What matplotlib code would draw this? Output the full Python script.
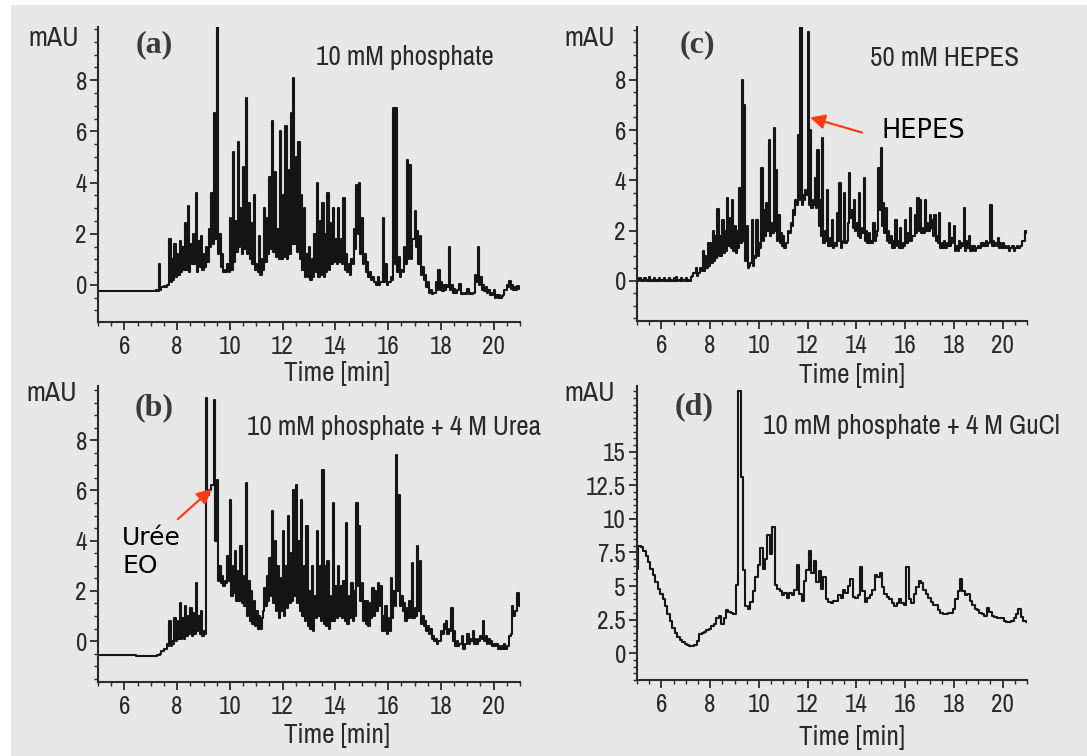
"""
Capillary electropherograms - four buffer conditions (a)-(d).
Renders out.png at 1087x756.
"""

import numpy as np
import matplotlib
matplotlib.use("Agg")
import matplotlib.pyplot as plt
from matplotlib import font_manager
from matplotlib.font_manager import FontProperties
from matplotlib.patches import Rectangle
from matplotlib.ticker import MultipleLocator, FixedLocator

# sampling grid of the traces (min); each bin has a top and a bottom value
TIME_START = 5.0
TIME_STEP = 0.1
N_POINTS = 161

# absorbance (mAU), one row per minute: 5.x, 6.x, ... 20.x, then 21.0
# top_* = highest point in each 0.1 min bin, low_* = lowest point
top_a = [
    -0.25, -0.25, -0.25, -0.25, -0.25, -0.25, -0.25, -0.25, -0.25, -0.25,
    -0.25, -0.25, -0.25, -0.25, -0.25, -0.25, -0.25, -0.25, -0.25, -0.25,
    -0.25, -0.25, -0.2, 0.8, -0.1, -0.05, 0.0, 1.8, 1.0, 1.6,
    1.2, 1.7, 1.5, 2.4, 3.1, 1.6, 2.0, 3.6, 1.7, 1.9,
    1.2, 1.5, 2.2, 3.6, 6.7, 10.2, 2.0, 1.2, 0.6, 0.8,
    2.6, 5.2, 2.5, 5.6, 3.0, 4.6, 7.3, 3.2, 2.4, 3.5,
    0.8, 1.9, 1.0, 3.0, 2.6, 4.2, 6.4, 4.4, 2.2, 6.0,
    3.5, 6.2, 4.5, 6.7, 8.1, 5.0, 5.6, 3.5, 3.0, 1.2,
    1.5, 1.0, 2.0, 4.0, 2.5, 3.2, 2.0, 3.6, 2.4, 3.0,
    1.8, 3.0, 1.8, 3.4, 1.2, 0.8, 1.0, 2.2, 3.9, 4.0,
    2.6, 1.2, 0.9, 0.5, 0.3, 0.1, 0.3, 0.1, 2.6, 0.8,
    0.1, 0.3, 6.9, 6.9, 1.1, 0.6, 1.5, 4.9, 4.7, 1.8,
    2.9, 2.1, 1.9, 0.7, 0.4, 0.1, -0.2, -0.3, 0.1, 0.6,
    0.1, 0.0, 0.0, 1.5, 0.0, -0.15, -0.2, 0.05, -0.3, -0.3,
    -0.15, -0.3, -0.3, 0.4, 1.5, 0.3, 0.0, -0.1, -0.2, -0.3,
    -0.2, -0.4, -0.4, -0.45, -0.2, 0.0, 0.15, 0.0, -0.1, -0.05,
    -0.1,
]
low_a = [
    -0.25, -0.25, -0.25, -0.25, -0.25, -0.25, -0.25, -0.25, -0.25, -0.25,
    -0.25, -0.25, -0.25, -0.25, -0.25, -0.25, -0.25, -0.25, -0.25, -0.25,
    -0.25, -0.25, -0.25, -0.25, -0.2, -0.1, -0.1, 0.0, 0.1, 0.2,
    0.3, 0.4, 0.5, 0.6, 0.6, 0.5, 0.8, 0.8, 0.5, 0.7,
    0.6, 0.7, 0.9, 1.5, 1.6, 1.8, 1.2, 0.7, 0.5, 0.5,
    0.5, 0.6, 0.9, 1.3, 1.5, 1.2, 1.4, 1.2, 1.0, 0.8,
    0.6, 0.5, 0.4, 0.6, 0.9, 1.2, 1.4, 1.3, 1.1, 1.0,
    1.0, 1.1, 1.0, 1.2, 1.6, 1.6, 1.3, 1.0, 0.6, 0.3,
    0.3, 0.2, 0.3, 0.5, 0.3, 0.4, 0.3, 0.5, 0.6, 0.8,
    0.9, 0.8, 0.9, 0.8, 0.6, 0.5, 0.4, 0.8, 1.4, 2.0,
    1.2, 0.8, 0.5, 0.3, 0.2, 0.1, 0.0, 0.0, 0.1, 0.1,
    0.0, 0.1, 0.2, 0.8, 0.5, 0.3, 0.5, 0.8, 1.0, 1.0,
    1.8, 1.5, 0.8, 0.4, 0.2, -0.1, -0.3, -0.35, -0.3, -0.2,
    -0.2, -0.25, -0.2, -0.1, -0.2, -0.3, -0.3, -0.2, -0.35, -0.35,
    -0.35, -0.35, -0.35, -0.3, 0.1, 0.0, -0.2, -0.25, -0.3, -0.4,
    -0.4, -0.5, -0.5, -0.5, -0.4, -0.2, -0.1, -0.15, -0.2, -0.2,
    -0.15,
]

top_b = [
    -0.55, -0.55, -0.55, -0.55, -0.55, -0.55, -0.55, -0.55, -0.55, -0.55,
    -0.55, -0.55, -0.55, -0.55, -0.55, -0.6, -0.6, -0.6, -0.6, -0.6,
    -0.6, -0.6, -0.6, -0.55, -0.4, -0.3, -0.1, 0.8, 0.0, 0.9,
    0.8, 1.5, 0.9, 1.4, 1.0, 1.3, 1.1, 2.3, 1.0, 1.2,
    0.4, 9.7, 6.0, 6.2, 9.6, 6.4, 3.0, 2.6, 2.4, 3.4,
    5.6, 3.0, 3.6, 2.8, 3.8, 2.6, 6.3, 2.4, 2.0, 1.6,
    1.2, 1.0, 0.9, 2.1, 2.6, 3.3, 5.2, 4.0, 3.0, 2.5,
    4.4, 3.0, 5.0, 3.5, 6.0, 6.2, 4.0, 5.6, 3.0, 4.6,
    2.0, 3.0, 1.8, 4.4, 3.0, 6.8, 3.0, 3.2, 1.8, 5.5,
    2.2, 3.0, 2.2, 2.4, 4.7, 1.8, 2.3, 2.0, 5.5, 4.6,
    2.3, 1.6, 1.6, 1.5, 2.1, 2.0, 2.3, 2.2, 1.0, 1.4,
    0.9, 2.5, 2.0, 7.4, 5.8, 1.8, 1.5, 1.3, 1.6, 3.1,
    1.3, 3.8, 3.2, 1.0, 0.8, 0.6, 0.5, 0.2, 0.1, 0.0,
    0.4, 0.7, 0.8, 0.5, 1.3, 0.4, 0.0, -0.1, 0.2, -0.1,
    0.3, 0.1, 0.4, 0.1, 0.1, 0.2, 0.8, 0.2, 0.1, 0.0,
    -0.1, -0.1, -0.2, -0.2, -0.1, -0.2, 0.2, 1.4, 1.2, 1.9,
    1.5,
]
low_b = [
    -0.55, -0.55, -0.55, -0.55, -0.55, -0.55, -0.55, -0.55, -0.55, -0.55,
    -0.55, -0.55, -0.55, -0.55, -0.55, -0.6, -0.6, -0.6, -0.6, -0.6,
    -0.6, -0.6, -0.6, -0.55, -0.5, -0.4, -0.3, -0.2, -0.2, -0.1,
    0.0, 0.1, 0.1, 0.1, 0.2, 0.3, 0.2, 0.3, 0.4, 0.3,
    0.2, 0.3, 5.8, 6.0, 6.2, 4.0, 2.4, 2.3, 2.2, 2.3,
    2.4, 1.8, 1.9, 1.6, 1.6, 1.5, 1.4, 1.0, 0.8, 0.7,
    0.6, 0.5, 0.5, 1.2, 1.4, 1.6, 1.8, 1.5, 1.2, 0.9,
    1.2, 1.0, 1.3, 1.5, 1.6, 1.8, 1.5, 1.2, 1.0, 0.8,
    0.6, 0.5, 0.4, 0.9, 1.0, 0.8, 0.7, 0.6, 0.5, 0.8,
    0.8, 0.9, 1.0, 0.9, 0.8, 0.7, 0.9, 0.8, 1.0, 2.2,
    1.6, 0.8, 0.7, 0.6, 0.9, 1.0, 1.2, 1.4, 0.4, 0.4,
    0.3, 0.4, 0.9, 1.4, 2.0, 1.4, 1.2, 0.8, 0.9, 0.9,
    0.9, 1.0, 1.2, 0.7, 0.6, 0.4, 0.3, 0.1, 0.0, -0.1,
    0.0, 0.3, 0.5, 0.3, 0.4, 0.0, -0.2, -0.2, -0.1, -0.3,
    -0.1, -0.1, 0.0, -0.1, -0.1, 0.0, 0.1, 0.0, -0.1, -0.1,
    -0.2, -0.2, -0.3, -0.3, -0.3, -0.3, -0.2, 0.3, 1.0, 1.2,
    1.4,
]

top_c = [
    0.05, 0.1, 0.05, 0.1, 0.05, 0.15, 0.05, 0.1, 0.05, 0.1,
    0.05, 0.1, 0.05, 0.1, 0.05, 0.1, 0.15, 0.05, 0.1, 0.05,
    0.1, 0.05, 0.15, 0.3, 0.5, 0.3, 0.5, 1.2, 1.0, 1.5,
    1.5, 2.0, 1.8, 2.85, 1.8, 2.4, 2.0, 3.3, 2.5, 3.2,
    2.2, 2.0, 3.7, 8.0, 7.0, 2.2, 0.6, 2.4, 1.0, 2.4,
    1.5, 4.5, 2.8, 3.1, 5.6, 2.3, 6.1, 4.4, 2.6, 1.9,
    1.8, 1.5, 2.0, 2.3, 2.8, 3.2, 5.8, 10.2, 3.4, 3.6,
    9.9, 6.0, 3.2, 4.1, 5.2, 3.2, 5.7, 2.0, 3.6, 1.7,
    2.4, 1.5, 2.7, 3.9, 1.5, 3.5, 1.6, 4.3, 2.8, 3.2,
    2.3, 3.5, 2.1, 4.1, 2.0, 1.9, 1.6, 2.3, 1.8, 4.5,
    5.3, 3.1, 2.9, 2.0, 1.8, 1.6, 2.4, 1.6, 2.1, 1.5,
    2.4, 1.9, 2.9, 1.8, 2.6, 3.3, 3.2, 2.1, 3.2, 2.3,
    2.6, 2.4, 2.6, 1.8, 2.7, 1.5, 1.6, 1.5, 2.3, 1.7,
    2.2, 1.4, 1.6, 1.5, 2.9, 1.6, 1.8, 1.4, 1.4, 1.3,
    1.4, 1.5, 1.5, 1.6, 1.5, 3.0, 1.6, 1.5, 1.7, 1.5,
    1.5, 1.4, 1.4, 1.3, 1.4, 1.3, 1.4, 1.4, 1.6, 2.0,
    2.0,
]
low_c = [
    0.0, 0.0, 0.0, 0.0, 0.0, 0.0, 0.0, 0.0, 0.0, 0.0,
    0.0, 0.0, 0.0, 0.0, 0.0, 0.0, 0.0, 0.0, 0.0, 0.0,
    0.0, 0.0, 0.0, 0.2, 0.3, 0.2, 0.3, 0.4, 0.4, 0.5,
    0.6, 0.7, 0.8, 0.9, 1.0, 1.0, 1.1, 1.2, 1.4, 1.3,
    1.2, 1.1, 1.3, 1.5, 1.6, 0.8, 0.5, 0.7, 0.6, 0.9,
    1.0, 1.3, 1.6, 1.8, 2.0, 1.8, 1.9, 2.0, 1.6, 1.5,
    1.4, 1.3, 1.5, 1.9, 2.2, 2.6, 3.0, 3.2, 3.0, 3.2,
    3.4, 3.0, 2.9, 3.0, 2.9, 2.2, 1.8, 1.5, 1.6, 1.4,
    1.4, 1.3, 1.4, 1.6, 1.3, 1.6, 1.5, 2.3, 2.5, 2.1,
    2.0, 1.8, 1.7, 1.9, 1.6, 1.5, 1.5, 1.5, 1.6, 2.0,
    2.8, 2.2, 1.9, 1.6, 1.5, 1.3, 1.3, 1.4, 1.3, 1.3,
    1.4, 1.5, 1.6, 1.6, 1.8, 1.9, 2.0, 1.9, 1.9, 2.0,
    2.0, 2.1, 1.8, 1.6, 1.5, 1.3, 1.3, 1.3, 1.4, 1.4,
    1.5, 1.2, 1.2, 1.3, 1.4, 1.2, 1.3, 1.2, 1.2, 1.2,
    1.3, 1.3, 1.4, 1.4, 1.4, 1.5, 1.4, 1.4, 1.4, 1.3,
    1.3, 1.3, 1.3, 1.2, 1.3, 1.2, 1.3, 1.3, 1.4, 1.6,
    1.9,
]

# GuCl trace is smooth, one value per bin
top_d = [
    6.3, 8.0, 7.9, 7.6, 7.2, 6.8, 6.3, 5.8, 5.3, 4.8,
    4.4, 4.0, 3.5, 2.9, 2.4, 1.9, 1.5, 1.2, 1.0, 0.8,
    0.7, 0.6, 0.55, 0.55, 0.6, 0.9, 1.4, 1.5, 1.6, 1.7,
    1.8, 2.0, 2.2, 2.6, 2.8, 2.2, 2.6, 3.2, 3.1, 3.0,
    2.9, 5.1, 19.5, 13.1, 6.2, 3.5, 3.3, 3.8, 4.6, 5.7,
    6.6, 7.8, 6.3, 7.0, 8.8, 7.4, 9.4, 5.1, 4.8, 4.6,
    4.3, 4.5, 4.1, 4.5, 4.3, 4.7, 6.6, 4.4, 3.9, 5.4,
    6.2, 7.6, 6.0, 6.9, 5.3, 6.1, 4.8, 5.7, 4.0, 3.8,
    3.7, 3.9, 3.9, 4.3, 4.1, 4.7, 4.5, 5.0, 5.5, 4.2,
    4.1, 4.3, 6.4, 4.6, 3.8, 4.1, 4.3, 4.7, 5.8, 5.7,
    6.0, 4.9, 4.4, 4.2, 4.0, 3.7, 3.5, 3.7, 4.0, 3.7,
    3.6, 6.4, 4.0, 3.7, 4.4, 4.9, 5.4, 5.2, 4.7, 4.4,
    4.1, 3.8, 3.6, 3.6, 3.2, 3.0, 2.9, 2.9, 3.0, 3.0,
    3.3, 4.0, 4.6, 5.5, 4.6, 4.3, 4.4, 3.9, 3.6, 3.3,
    3.2, 3.0, 2.9, 2.8, 3.4, 3.1, 2.8, 2.7, 2.6, 2.6,
    2.6, 2.4, 2.3, 2.3, 2.4, 2.6, 2.9, 3.3, 2.7, 2.4,
    2.3,
]
low_d = top_d

x_ticks = [6, 8, 10, 12, 14, 16, 18, 20]
y_ticks_small = [0, 2, 4, 6, 8]
y_ticks_d = [0, 2.5, 5, 7.5, 10, 12.5, 15]
y_labels_d = ["0", "2.5", "5", "7.5", "10", "12.5", "15"]

panel_tags = ["(a)", "(b)", "(c)", "(d)"]
conditions = ["10 mM phosphate", "10 mM phosphate + 4 M Urea",
              "50 mM HEPES", "10 mM phosphate + 4 M GuCl"]

W, H = 1087, 756
BG = "#e7e7e7"
INK = "#2a2a2a"
ARROW = "#ff3d14"


def pick_narrow_font():
    # the original uses a condensed grotesque; take the narrowest sans we have
    fonts = font_manager.fontManager.ttflist
    for f in fonts:
        if f.name == "Liberation Sans Narrow":
            return dict(family=f.name), 1.0
    for f in fonts:
        if ("Condensed" in f.name or "Narrow" in f.name) and "Mono" not in f.name:
            return dict(family=f.name), 1.0
    for f in fonts:
        if f.name == "DejaVu Sans" and str(f.stretch) in ("condensed", "semi-condensed", "75", "87.5"):
            return dict(family="DejaVu Sans", stretch=f.stretch), 0.95
    return dict(family="Liberation Sans"), 0.9


NARROW_KW, SIZE_SCALE = pick_narrow_font()
names = {f.name for f in font_manager.fontManager.ttflist}
SERIF = "Liberation Serif" if "Liberation Serif" in names else "DejaVu Serif"

TICK_SIZE = 18
LABEL_SIZE = 19.5


def narrow(size):
    return FontProperties(size=size * SIZE_SCALE, **NARROW_KW)


def px_box(left, top, right, bottom):
    return [left / W, 1 - bottom / H, (right - left) / W, (bottom - top) / H]


def fig_xy(x, y):
    return x / W, 1 - y / H


def style_axes(ax, ylim, yticks, ylabels, label_pos):
    ax.set_facecolor("none")
    for side in ("top", "right"):
        ax.spines[side].set_visible(False)
    for side in ("left", "bottom"):
        ax.spines[side].set_color(INK)
        ax.spines[side].set_linewidth(1.5)

    ax.set_xlim(5, 21)
    ax.set_ylim(*ylim)
    ax.xaxis.set_major_locator(FixedLocator(x_ticks))
    ax.xaxis.set_minor_locator(MultipleLocator(0.5))
    ax.yaxis.set_major_locator(FixedLocator(yticks))
    ax.yaxis.set_minor_locator(MultipleLocator(0.5))
    ax.set_yticklabels(ylabels)

    ax.tick_params(which="major", direction="out", length=6, width=1.3, color=INK,
                   labelcolor=INK)
    ax.tick_params(which="minor", direction="out", length=3, width=1.0, color=INK)
    ax.tick_params(axis="x", which="major", pad=3)
    ax.tick_params(axis="y", which="major", pad=2)
    for lab in ax.get_xticklabels() + ax.get_yticklabels():
        lab.set_fontproperties(narrow(TICK_SIZE))

    ax.text(label_pos[0], label_pos[1], "Time [min]", transform=ax.transAxes,
            ha="center", va="center", fontproperties=narrow(LABEL_SIZE), color=INK)


def main():
    fig = plt.figure(figsize=(W / 100, H / 100), dpi=100, facecolor="white")
    # grey plate with a thin white margin at top and left
    fig.patches.append(Rectangle((11 / W, 0), 1 - 11 / W, 1 - 5 / H,
                                 transform=fig.transFigure, facecolor=BG,
                                 edgecolor="none", zorder=-10))

    time_min = np.round(TIME_START + TIME_STEP * np.arange(N_POINTS), 1)
    half = TIME_STEP / 4
    # two samples per bin: bottom then top
    time_fine = np.column_stack((time_min - half, time_min + half)).ravel()

    panels = [
        # box, top, low, ylim, yticks, ylabels, xlabel pos, mAU pos, tag pos, cond pos
        (px_box(98, 27, 520, 322), top_a, low_a, (-1.45, 10.08), y_ticks_small,
         [str(v) for v in y_ticks_small], (0.566, -0.173), (79, 38), (154, 45), (405, 58)),
        (px_box(98, 386, 520, 682), top_b, low_b, (-1.63, 10.16), y_ticks_small,
         [str(v) for v in y_ticks_small], (0.566, -0.182), (77, 393), (154, 408), (394, 428)),
        (px_box(637, 27, 1027, 321), top_c, low_c, (-1.6, 10.1), y_ticks_small,
         [str(v) for v in y_ticks_small], (0.551, -0.187), (615, 38), (697, 45), (945, 58)),
        (px_box(637, 386, 1027, 680), top_d, low_d, (-2.0, 19.9), y_ticks_d,
         y_labels_d, (0.551, -0.197), (615, 393), (694, 407), (911, 427)),
    ]

    axes = []
    for i, (box, top, low, ylim, yt, yl, xl, mau, tag, cond) in enumerate(panels):
        ax = fig.add_axes(box)
        trace = np.column_stack((low, top)).ravel()
        ax.plot(time_fine, trace, drawstyle="steps-mid", color="#151515", lw=1.5)
        style_axes(ax, ylim, yt, yl, xl)
        axes.append(ax)

        fig.text(*fig_xy(*mau), "mAU", ha="right", va="center",
                 fontproperties=narrow(20), color=INK)
        fig.text(*fig_xy(*tag), panel_tags[i], ha="center", va="center", fontsize=23,
                 family=SERIF, weight="bold", color="#3a3a3a")
        fig.text(*fig_xy(*cond), conditions[i], ha="center", va="center",
                 fontproperties=narrow(LABEL_SIZE), color=INK)

    ax_b, ax_c = axes[1], axes[2]

    # HEPES peak
    ax_c.annotate("", xy=(12.1, 6.5), xytext=(14.23, 5.9),
                  arrowprops=dict(arrowstyle="-|>", color=ARROW, lw=1.6,
                                  mutation_scale=22, shrinkA=0, shrinkB=0))
    ax_c.text(15.05, 5.98, "HEPES", ha="left", va="center", fontsize=18.5,
              family="DejaVu Sans", color="black")

    # urea / EOF marker
    ax_b.annotate("", xy=(9.31, 6.06), xytext=(8.03, 4.86),
                  arrowprops=dict(arrowstyle="-|>", color=ARROW, lw=1.6,
                                  mutation_scale=22, shrinkA=0, shrinkB=0))
    ax_b.text(5.91, 3.55, "Urée\nEO", ha="left", va="center", fontsize=18,
              family="DejaVu Sans", color="black", linespacing=1.25)

    fig.savefig("out.png", dpi=100, facecolor=fig.get_facecolor())
    plt.close(fig)


if __name__ == "__main__":
    main()
